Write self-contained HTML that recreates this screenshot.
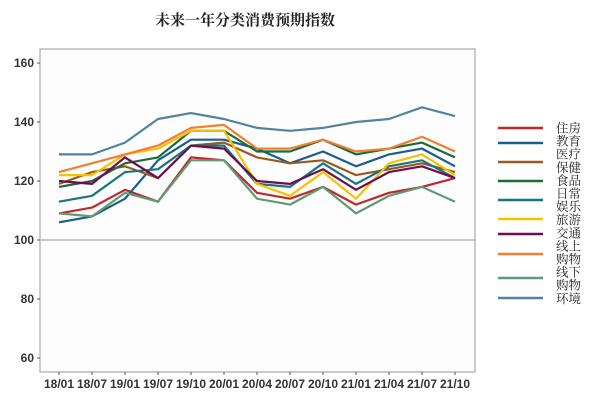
<!DOCTYPE html>
<html><head><meta charset="utf-8"><style>
body{margin:0;background:#fff;}
svg{display:block}
</style></head><body>
<svg width="600" height="404" xmlns="http://www.w3.org/2000/svg" font-family="Liberation Sans, sans-serif">
<rect width="600" height="404" fill="#fff"/>
<text x="245" y="25" font-family="Liberation Serif, Noto Serif CJK SC, serif" font-size="15" font-weight="bold" text-anchor="middle" fill="#222">未来一年分类消费预期指数</text>
<rect x="40" y="49" width="435" height="323" fill="#fdfdfd" stroke="#aaa" stroke-width="1.2"/>
<line x1="40" y1="240" x2="475" y2="240" stroke="#aaa" stroke-width="1.2"/>
<g font-size="12" font-weight="bold" fill="#333" text-anchor="end">
<text x="34" y="67">160</text><text x="34" y="126">140</text><text x="34" y="185">120</text><text x="34" y="244">100</text><text x="34" y="303">80</text><text x="34" y="362">60</text>
</g>
<g stroke="#555" stroke-width="1">
<line x1="37" y1="63" x2="40" y2="63"/><line x1="37" y1="122" x2="40" y2="122"/><line x1="37" y1="181" x2="40" y2="181"/><line x1="37" y1="240" x2="40" y2="240"/><line x1="37" y1="299" x2="40" y2="299"/><line x1="37" y1="358" x2="40" y2="358"/>
</g>
<g id="xl" font-size="12" font-weight="bold" fill="#333" text-anchor="middle"></g>
<g id="lines" fill="none" stroke-width="2.2" stroke-linejoin="round"></g>
<g id="leg"></g>
<script>
var ns="http://www.w3.org/2000/svg";
var labs=["18/01","18/07","19/01","19/07","19/10","20/01","20/04","20/07","20/10","21/01","21/04","21/07","21/10"];
var xl=document.getElementById("xl");
labs.forEach(function(l,i){var x=59+33*i;
var t=document.createElementNS(ns,"text");t.setAttribute("x",x);t.setAttribute("y",388);t.textContent=l;xl.appendChild(t);
var tk=document.createElementNS(ns,"line");tk.setAttribute("x1",x);tk.setAttribute("x2",x);tk.setAttribute("y1",372);tk.setAttribute("y2",375);tk.setAttribute("stroke","#555");xl.appendChild(tk);});
var S=[
["住房","#c0282d",[109,111,117,113,128,127,116,114,118,112,116,118,121]],
["教育","#1a5e8f",[106,108,114,127,134,134,131,126,130,125,129,131,125]],
["医疗","#9a5a1f",[119,123,125,121,132,133,128,126,127,122,124,126,123]],
["保健","#1b6b3a",[118,120,126,128,137,137,130,130,134,129,131,133,128]],
["日常","#17767f",[113,115,123,124,132,132,119,118,126,119,125,127,121]],
["旅游","#f5c200",[122,122,129,131,137,137,119,115,123,114,126,129,122]],
["交通","#6e0d4f",[120,119,128,121,132,131,120,119,124,117,123,125,121]],
["线上购物","#f08030",[123,126,129,132,138,139,131,131,134,130,131,135,130]],
["线下购物","#5d9c74",[109,108,116,113,127,127,114,112,118,109,115,118,113]],
["环境","#5083a0",[129,129,133,141,143,141,138,137,138,140,141,145,142]]];
var g=document.getElementById("lines");
S.forEach(function(s){var p=s[2].map(function(v,i){return (59+33*i)+","+(240-(v-100)*2.95).toFixed(1)}).join(" ");
var pl=document.createElementNS(ns,"polyline");pl.setAttribute("points",p);pl.setAttribute("stroke",s[1]);g.appendChild(pl);});
var leg=document.getElementById("leg");
var ly=[128,143,162,181,200,219,234,254,278,298];
S.forEach(function(s,i){var l=document.createElementNS(ns,"line");l.setAttribute("x1",498);l.setAttribute("x2",543);l.setAttribute("y1",ly[i]);l.setAttribute("y2",ly[i]);l.setAttribute("stroke",s[1]);l.setAttribute("stroke-width",2.5);leg.appendChild(l);});
var words=["住房","教育","医疗","保健","食品","日常","娱乐","旅游","交通","线上","购物","线下","购物","环境"];
words.forEach(function(w,i){var t=document.createElementNS(ns,"text");t.setAttribute("x",556);t.setAttribute("y",132.5+i*13.1);t.setAttribute("font-size","12.5");t.setAttribute("font-family","Liberation Serif, Noto Serif CJK SC, serif");t.setAttribute("fill","#222");t.textContent=w;leg.appendChild(t);});
</script>
</svg>
</body></html>
